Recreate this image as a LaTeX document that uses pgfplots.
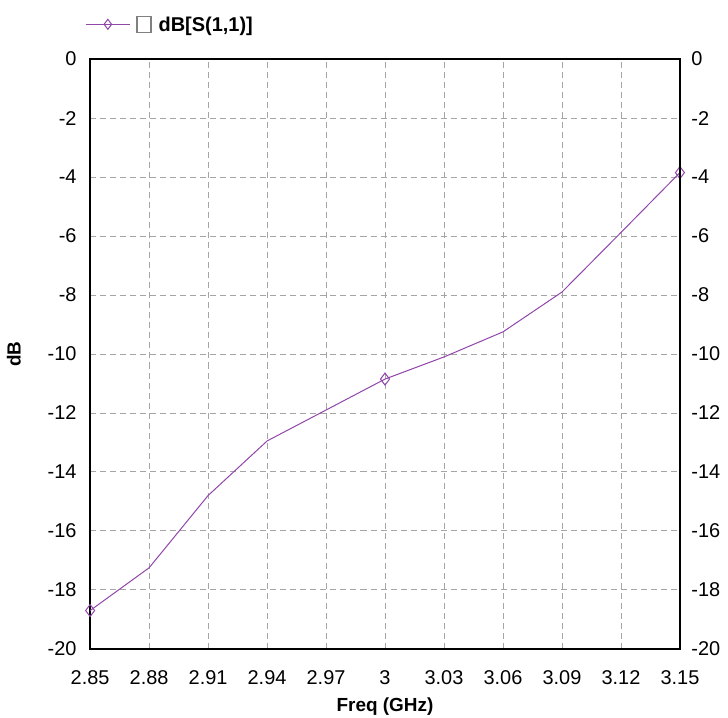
\documentclass[border=0pt]{standalone}
\usepackage{pgfplots}
\pgfplotsset{compat=1.18}
\usepackage{fontspec}
\setmainfont{Liberation Sans}
\definecolor{sparam}{RGB}{145,70,170}
\definecolor{gridgray}{RGB}{165,165,165}

\begin{document}
\begin{tikzpicture}
\pgfplotsset{
  common/.style={
    scale only axis,
    width=589bp, height=589bp,
    xmin=2.85, xmax=3.15,
    ymin=-20, ymax=0,
    ytick={-20,-18,...,0},
    xtick={2.85,2.88,2.91,2.94,2.97,3.00,3.03,3.06,3.09,3.12,3.15},
    major tick length=0pt,
    tick label style={font=\fontsize{20}{23}\selectfont},
    /pgf/number format/assume math mode=true,
    axis line style={black, line width=1.4bp},
  },
}
\begin{axis}[
  common,
  name=ax,
  grid=major,
  grid style={gridgray, line width=0.9bp, dash pattern=on 6bp off 4bp},
  xticklabels={2.85,2.88,2.91,2.94,2.97,3,3.03,3.06,3.09,3.12,3.15},
  xticklabel style={yshift=-18bp},
  yticklabel style={xshift=-10bp},
  xlabel={\textbf{Freq (GHz)}},
  ylabel={\textbf{dB}},
  label style={font=\fontsize{19}{22}\selectfont},
  xlabel style={yshift=-6bp},
  ylabel style={yshift=20bp},
  legend style={at={(axis description cs:0,1)}, anchor=south west,
    xshift=-8bp, yshift=22bp, draw=none, fill=none,
    font=\fontsize{20}{23}\selectfont},
]
\addplot[sparam, line width=1bp, mark=diamond, mark size=6bp,
  mark options={solid, line width=1bp}, mark indices={1,6,11}, forget plot]
  coordinates {
  (2.85,-18.70) (2.88,-17.25) (2.91,-14.80) (2.94,-12.95) (2.97,-11.90)
  (3.00,-10.85) (3.03,-10.10) (3.06,-9.25) (3.09,-7.90) (3.12,-5.88)
  (3.15,-3.85)
};
\addlegendimage{sparam, line width=1bp, mark=diamond, mark size=5bp,
  mark options={solid, line width=1bp},
  legend image code/.code={\draw[mark repeat=2,mark phase=2,##1]
    plot coordinates {(0bp,0bp) (22bp,0bp) (44bp,0bp)};}}
\addlegendentry{\hspace{4bp}\tikz[baseline=-1bp]\draw[gray, line width=1.2bp] (0,-2bp) rectangle (14bp,14bp);\hspace{7bp}\textbf{dB[S(1,1)]}}
\end{axis}
\begin{axis}[
  common,
  axis x line=none,
  axis y line*=right,
  yticklabel pos=right,
  yticklabel style={xshift=8bp},
]
\end{axis}
\pgfresetboundingbox
\path ([xshift=-90bp,yshift=-69bp]ax.south west) rectangle ([xshift=48bp,yshift=59bp]ax.north east);
\end{tikzpicture}
\end{document}
